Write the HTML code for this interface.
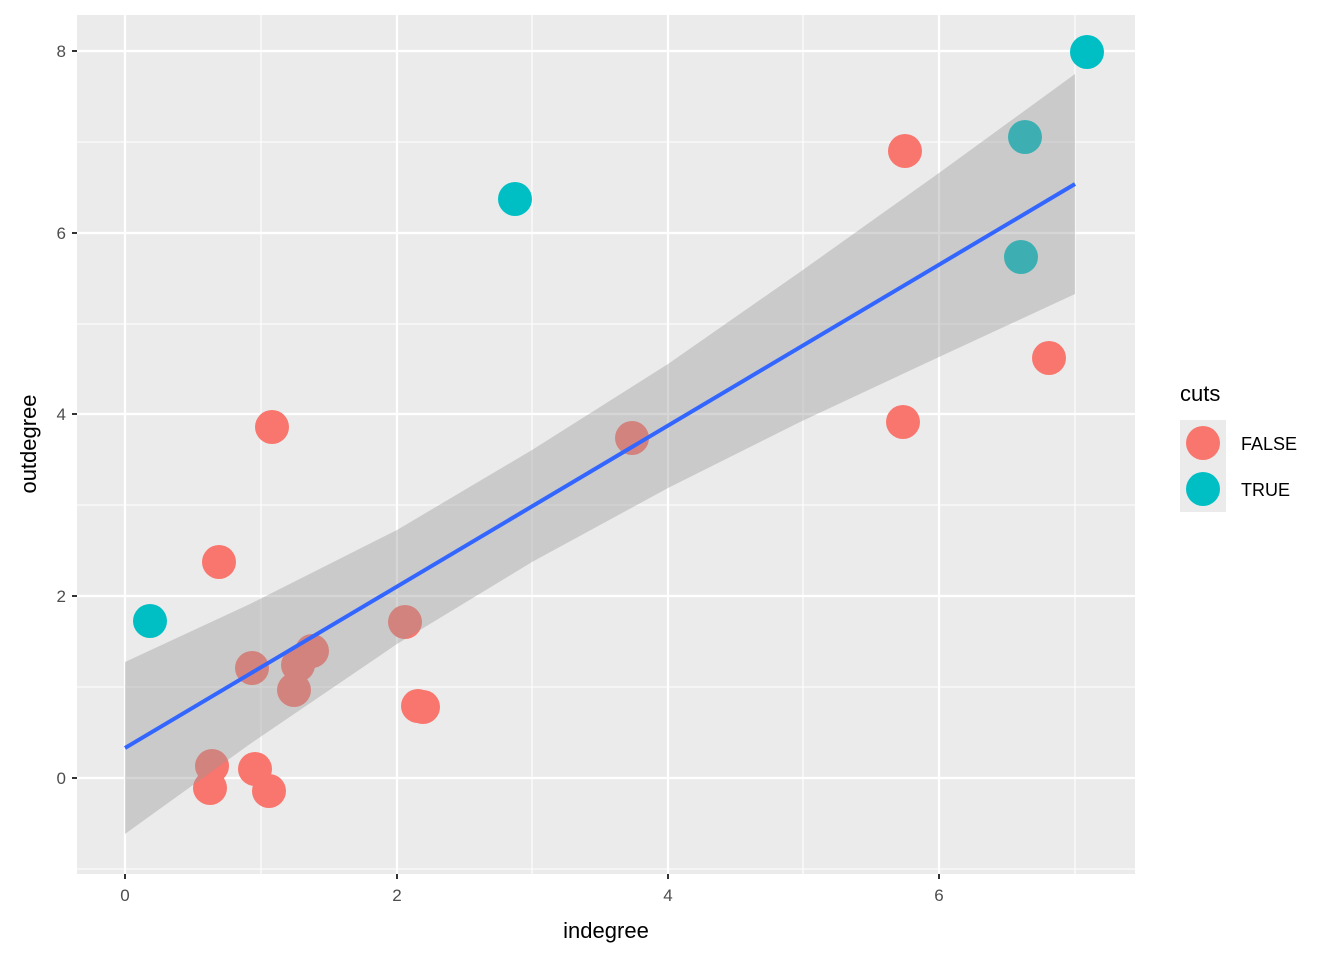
<!DOCTYPE html>
<html><head><meta charset="utf-8"><style>body{margin:0;background:#fff}</style></head><body>
<svg width="1344" height="960" xmlns="http://www.w3.org/2000/svg" font-family="Liberation Sans, sans-serif">
<rect x="77" y="15" width="1058" height="859" fill="#ebebeb"/>
<g stroke="#fff" stroke-width="1.1">
<line x1="261" y1="15" x2="261" y2="874"/><line x1="532" y1="15" x2="532" y2="874"/><line x1="803" y1="15" x2="803" y2="874"/><line x1="1075" y1="15" x2="1075" y2="874"/>
<line x1="77" y1="142" x2="1135" y2="142"/><line x1="77" y1="324" x2="1135" y2="324"/><line x1="77" y1="505" x2="1135" y2="505"/><line x1="77" y1="687" x2="1135" y2="687"/><line x1="77" y1="869" x2="1135" y2="869"/>
</g>
<g stroke="#fff" stroke-width="2.2">
<line x1="125" y1="15" x2="125" y2="874"/><line x1="397" y1="15" x2="397" y2="874"/><line x1="668" y1="15" x2="668" y2="874"/><line x1="939" y1="15" x2="939" y2="874"/>
<line x1="77" y1="51" x2="1135" y2="51"/><line x1="77" y1="233" x2="1135" y2="233"/><line x1="77" y1="414" x2="1135" y2="414"/><line x1="77" y1="596" x2="1135" y2="596"/><line x1="77" y1="778" x2="1135" y2="778"/>
</g>
<g fill="#00bfc4">
<circle cx="1087" cy="52" r="17"/><circle cx="1025" cy="137" r="17"/><circle cx="1021" cy="257" r="17"/><circle cx="515" cy="199" r="17"/><circle cx="150" cy="621" r="17"/>
</g>
<g fill="#f8766d">
<circle cx="905" cy="151" r="17"/><circle cx="1049" cy="358" r="17"/><circle cx="903" cy="422" r="17"/><circle cx="632" cy="438" r="17"/><circle cx="272" cy="427" r="17"/><circle cx="219" cy="562" r="17"/><circle cx="405" cy="622" r="17"/><circle cx="312" cy="651" r="17"/><circle cx="298" cy="665" r="17"/><circle cx="252" cy="668" r="17"/><circle cx="294" cy="690" r="17"/><circle cx="418" cy="706" r="17"/><circle cx="423" cy="707" r="17"/><circle cx="212" cy="766" r="17"/><circle cx="255" cy="769" r="17"/><circle cx="210" cy="788" r="17"/><circle cx="269" cy="791" r="17"/>
</g>
<polygon fill="#999" fill-opacity="0.4" points="125,662 250,604 397,530 532,450 668,364 800,272 939,173 1075,74 1075,294 939,357 800,422 668,488 532,562 397,644 250,744 125,834"/>
<line x1="125" y1="748" x2="1075" y2="184" stroke="#3366ff" stroke-width="4"/>
<g stroke="#333" stroke-width="2">
<line x1="125" y1="874" x2="125" y2="879"/><line x1="397" y1="874" x2="397" y2="879"/><line x1="668" y1="874" x2="668" y2="879"/><line x1="939" y1="874" x2="939" y2="879"/>
<line x1="72" y1="51" x2="77" y2="51"/><line x1="72" y1="233" x2="77" y2="233"/><line x1="72" y1="414" x2="77" y2="414"/><line x1="72" y1="596" x2="77" y2="596"/><line x1="72" y1="778" x2="77" y2="778"/>
</g>
<g fill="#4d4d4d" font-size="17" text-anchor="middle">
<text x="125" y="901">0</text><text x="397" y="901">2</text><text x="668" y="901">4</text><text x="939" y="901">6</text>
</g>
<g fill="#4d4d4d" font-size="17" text-anchor="end">
<text x="66" y="57">8</text><text x="66" y="239">6</text><text x="66" y="420">4</text><text x="66" y="602">2</text><text x="66" y="784">0</text>
</g>
<text x="606" y="938" font-size="22" text-anchor="middle" fill="#000">indegree</text>
<text transform="translate(36,444) rotate(-90)" font-size="22" text-anchor="middle" fill="#000">outdegree</text>
<text x="1180" y="401" font-size="22" fill="#000">cuts</text>
<rect x="1180" y="420" width="46" height="46" fill="#ebebeb"/><rect x="1180" y="466" width="46" height="46" fill="#ebebeb"/>
<circle cx="1203" cy="443" r="17" fill="#f8766d"/><circle cx="1203" cy="489" r="17" fill="#00bfc4"/>
<text x="1241" y="450" font-size="18" fill="#000">FALSE</text>
<text x="1241" y="496" font-size="18" fill="#000">TRUE</text>
</svg>
</body></html>
